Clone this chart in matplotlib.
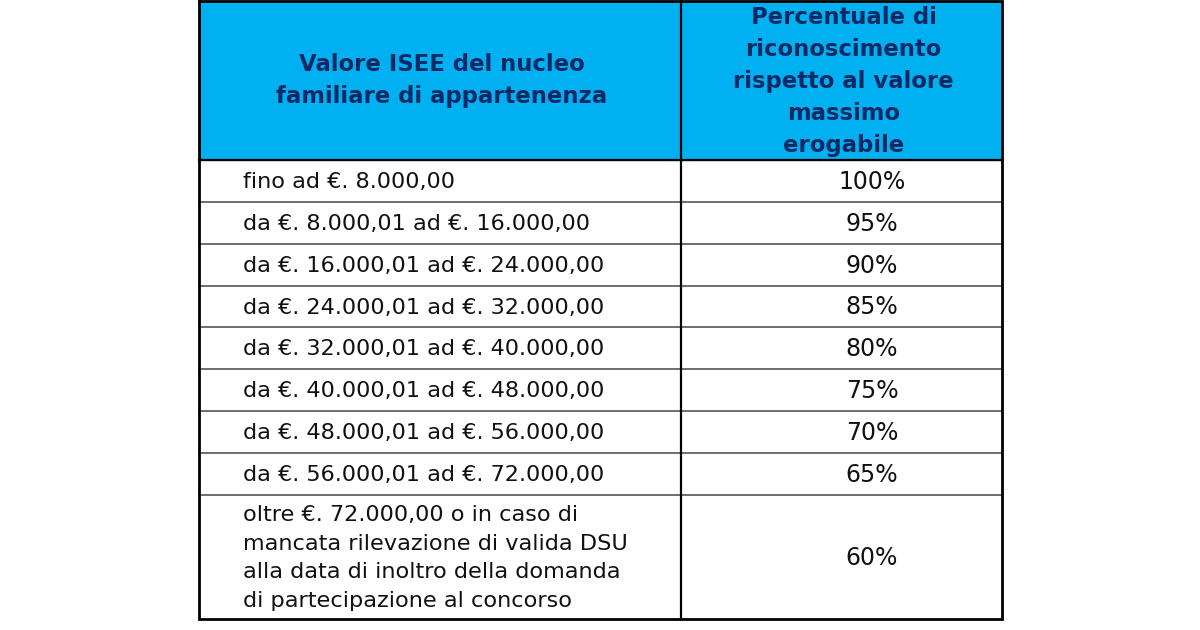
import matplotlib
matplotlib.use("Agg")
import matplotlib.pyplot as plt

intestazione = ["Valore ISEE del nucleo\nfamiliare di appartenenza",
                "Percentuale di\nriconoscimento\nrispetto al valore\nmassimo\nerogabile"]
fasce = ["fino ad €. 8.000,00",
         "da €. 8.000,01 ad €. 16.000,00",
         "da €. 16.000,01 ad €. 24.000,00",
         "da €. 24.000,01 ad €. 32.000,00",
         "da €. 32.000,01 ad €. 40.000,00",
         "da €. 40.000,01 ad €. 48.000,00",
         "da €. 48.000,01 ad €. 56.000,00",
         "da €. 56.000,01 ad €. 72.000,00",
         "oltre €. 72.000,00 o in caso di\nmancata rilevazione di valida DSU\nalla data di inoltro della domanda\ndi partecipazione al concorso"]
percentuali = [100, 95, 90, 85, 80, 75, 70, 65, 60]

# geometria della tabella in pixel
x0, xm, x1 = 199, 681, 1002
righe = [1, 160, 202, 244, 286, 327, 369, 411, 453, 495, 619]

fig = plt.figure(figsize=(12, 6.3), dpi=100)
ax = fig.add_axes([0, 0, 1, 1])
ax.set_xlim(0, 1200)
ax.set_ylim(630, 0)
ax.axis("off")

ax.fill_between([x0, x1], righe[0], righe[1], color="#00B0F0", zorder=0)

blu = "#0A2A66"
ax.text((x0 + xm) / 2 + 2, (righe[0] + righe[1]) / 2, intestazione[0], ha="center", va="center",
        fontsize=16.4, fontweight="bold", color=blu, linespacing=1.5)
ax.text((xm + x1) / 2 + 2, (righe[0] + righe[1]) / 2 + 1, intestazione[1], ha="center", va="center",
        fontsize=16.4, fontweight="bold", color=blu, linespacing=1.5)

for i, (f, p) in enumerate(zip(fasce, percentuali)):
    yc = (righe[i + 1] + righe[i + 2]) / 2 + 1
    ax.text(243, yc, f, ha="left", va="center", fontsize=16.1, color="#111111", linespacing=1.55)
    ax.text(872, yc, f"{p}%", ha="center", va="center", fontsize=17, color="#111111")

# linee interne
for y in righe[2:-1]:
    ax.plot([x0, x1], [y, y], color="#555555", lw=1.2, zorder=2)
ax.plot([x0, x1], [righe[1], righe[1]], color="black", lw=1.6, zorder=2)
ax.plot([xm, xm], [righe[0], righe[-1]], color="black", lw=1.6, zorder=2)
# bordo esterno
ax.plot([x0, x1, x1, x0, x0], [righe[0], righe[0], righe[-1], righe[-1], righe[0]],
        color="black", lw=2, zorder=3, solid_joinstyle="miter")

fig.savefig("out.png", dpi=100, facecolor="white")
